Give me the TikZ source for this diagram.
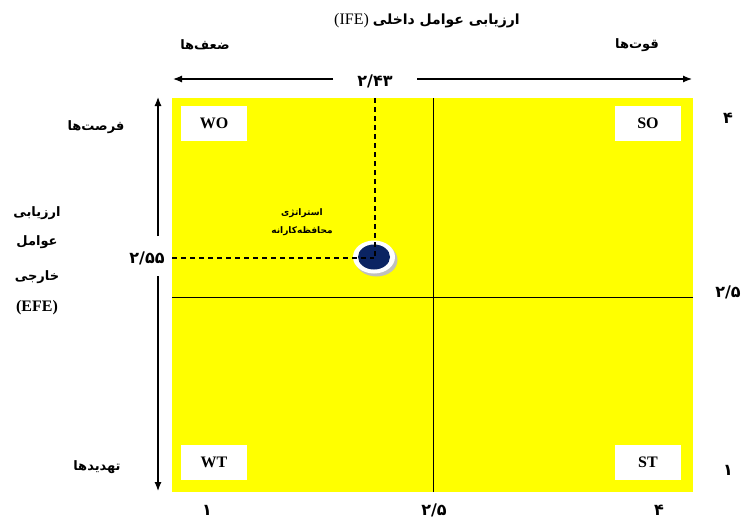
\documentclass[tikz,border=0pt]{standalone}
\usepackage{fontspec}
\setmainfont{Liberation Serif}
\newfontfamily\fa[Script=Arabic]{DejaVu Sans}
\TeXXeTstate=1
\usetikzlibrary{arrows.meta}
\definecolor{ylw}{HTML}{FFFF00}
\definecolor{navyb}{HTML}{0B2462}
\begin{document}
\begin{tikzpicture}[x=1pt,y=-1pt,
 fatxt/.style={font=\fa\bfseries\fontsize{13}{15}\selectfont, inner sep=0pt},
 numtxt/.style={font=\fa\bfseries\fontsize{16}{18}\selectfont, inner sep=0pt},
 smalltxt/.style={font=\fa\bfseries\fontsize{9}{11}\selectfont, inner sep=0pt},
 quad/.style={fill=white, minimum width=66pt, minimum height=35pt, font=\bfseries\fontsize{16}{18}\selectfont, inner sep=0pt},
 axisarrow/.style={line width=1.2pt, -{Latex[length=9pt,width=7pt]}},
 guide/.style={line width=1.2pt, dash pattern=on 5pt off 4pt},
 midline/.style={line width=0.8pt}]
\useasboundingbox (0,0) rectangle (743,522);
% field
\fill[ylw] (172,98) rectangle (693,492);
\coordinate (vtop) at (433,98);
\coordinate (vbot) at (433,492);
\coordinate (hleft) at (172,297);
\coordinate (hright) at (693,297);
\draw[midline] (vtop) -- (vbot);
\draw[midline] (hleft) -- (hright);
% quadrant boxes
\node[quad] (wo) at (214,123.5) {WO};
\node[quad] (so) at (648,123.5) {SO};
\node[quad] (wt) at (214,462) {WT};
\node[quad] (st) at (648,462) {ST};
% point
\coordinate (pt) at (374,257);
\fill[black!25] ([shift={(2.5,3)}]pt) ellipse [x radius=21, y radius=16.5];
\fill[white] (pt) ellipse [x radius=21, y radius=16.5];
\fill[navyb] (pt) ellipse [x radius=16, y radius=12.5];
\coordinate (dtop) at (375,98);
\coordinate (dleft) at (172,258);
\draw[guide] (dtop) -- (375,257);
\draw[guide] (dleft) -- (374,258);
\node[smalltxt] (str1) at (302,213) {\beginR استراتژی\endR};
\node[smalltxt] (str2) at (302,231) {\beginR محافظه‌کارانه\endR};
% top
\node[inner sep=0pt] (title) at (427,21) {\fontsize{16}{18}\selectfont (IFE) {\fa\bfseries\fontsize{14}{16}\selectfont\beginR ارزیابی عوامل داخلی\endR}};
\node[fatxt] (weak) at (205,45) {\beginR ضعف‌ها\endR};
\node[fatxt] (strong) at (637,45) {\beginR قوت‌ها\endR};
\node[numtxt] (ifeval) at (375,81) {۲/۴۳};
\coordinate (hl) at (333,79);
\coordinate (tipl) at (173,79);
\coordinate (hr) at (417,79);
\coordinate (tipr) at (692,79);
\draw[axisarrow] (hl) -- (tipl);
\draw[axisarrow] (hr) -- (tipr);
% left
\node[fatxt] (opp) at (96,127) {\beginR فرصت‌ها\endR};
\node[fatxt] (efe1) at (37,213) {\beginR ارزیابی\endR};
\node[fatxt] (efe2) at (37,242) {\beginR عوامل\endR};
\node[fatxt] (efe3) at (37,277) {\beginR خارجی\endR};
\node[inner sep=0pt, font=\bfseries\fontsize{16}{18}\selectfont] (efe4) at (37,308) {(EFE)};
\node[fatxt] (thr) at (97,467) {\beginR تهدیدها\endR};
\node[numtxt] (efeval) at (147,258) {۲/۵۵};
\coordinate (vu) at (158,236);
\coordinate (tipu) at (158,97);
\coordinate (vd) at (158,276);
\coordinate (tipd) at (158,491);
\draw[axisarrow] (vu) -- (tipu);
\draw[axisarrow] (vd) -- (tipd);
% right
\node[numtxt] (r4) at (728,118) {۴};
\node[numtxt] (r25) at (728,292) {۲/۵};
\node[numtxt] (r1) at (728,470) {۱};
% bottom
\node[numtxt] (b1) at (207,510) {۱};
\node[numtxt] (b25) at (434,510) {۲/۵};
\node[numtxt] (b4) at (659,510) {۴};
\end{tikzpicture}
\end{document}
